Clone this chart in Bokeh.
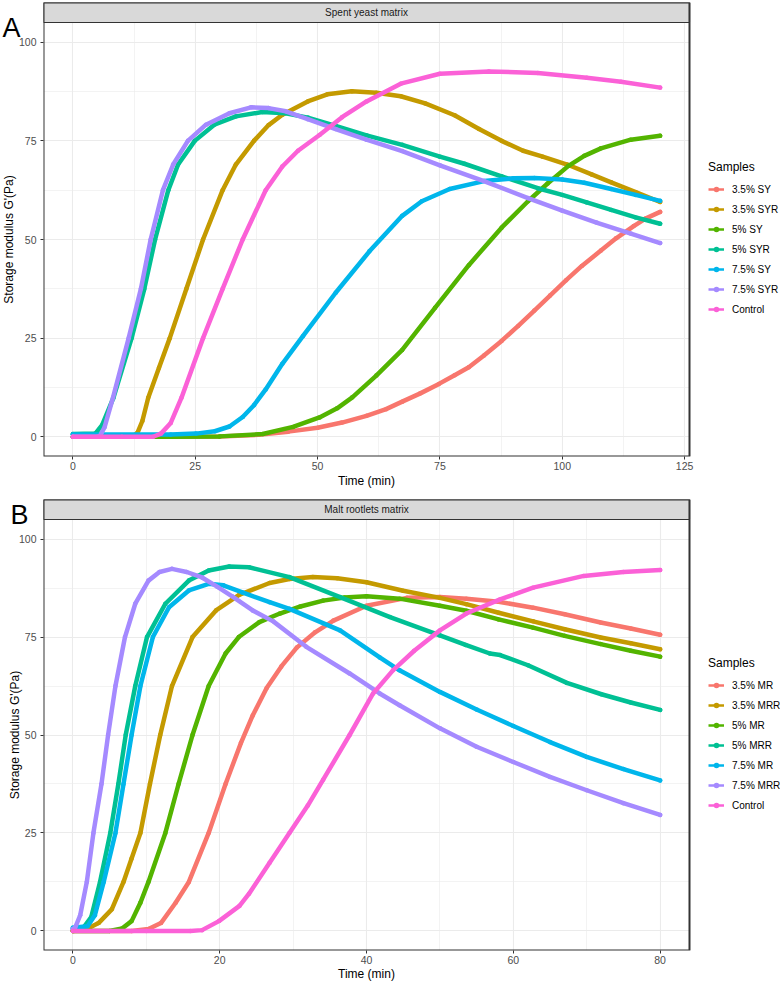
import math
from bokeh.plotting import figure
from bokeh.models import Range1d, FixedTicker, Label, Legend, LegendItem
from bokeh.layouts import column
from bokeh.core.properties import value
from bokeh.embed import file_html
from bokeh.resources import INLINE

FONT = "Liberation Sans"
COLORS = ["#F8766D", "#C49A00", "#53B400", "#00C094", "#00B6EB", "#A58AFF", "#FB61D7"]

# ---------------- Panel A : Spent yeast matrix ----------------
SAMPLES_A = ["3.5% SY", "3.5% SYR", "5% SY", "5% SYR", "7.5% SY", "7.5% SYR", "Control"]

a_sy35_t = [0, 20, 30, 38, 44, 50, 55, 60, 64, 67.3, 71, 74.8, 78, 80.9, 84, 87.6, 91, 94.3,
            97.5, 100.8, 104, 107.9, 111, 114.6, 117, 120]
a_sy35_v = [0, 0, 0.1, 0.5, 1.3, 2.3, 3.6, 5.3, 7, 8.9, 11, 13.4, 15.6, 17.6, 20.6, 24.3, 28.1, 32,
            35.8, 39.7, 43.3, 47.2, 50.3, 53.4, 55.3, 57]

a_syr35_t = [0, 12, 13.2, 14.2, 15.4, 17.6, 19.8, 23.2, 26.6, 30.6, 33.3, 37, 40, 42.8, 48, 52, 57,
             62, 67, 72, 78, 83, 87.6, 92, 96, 101, 106, 110, 115, 120]
a_syr35_v = [0, 0, 1, 4, 9.9, 17.5, 25, 37.5, 50, 62.5, 69, 75, 79, 81.6, 85, 86.8, 87.6,
             87.2, 86.3, 84.5, 81.5, 78, 75, 72.5, 71, 69, 66.5, 64.5, 62, 59.5]

a_sy5_t = [0, 20, 30, 38.8, 45, 50.4, 54, 57.1, 62, 67.3, 74, 80.9, 87.6, 93, 97, 101.2, 104.5,
           107.9, 114, 120]
a_sy5_v = [0, 0, 0.1, 0.7, 2.5, 4.9, 7.2, 10, 15.5, 22, 32.7, 43.5, 53, 59.7, 64.2, 68.6, 71.2,
           73.1, 75.3, 76.3]

a_syr5_t = [0, 4.6, 6, 8.3, 12, 14.6, 16.8, 19.5, 21.5, 24.9, 28.9, 33.3, 38.7, 43.5, 48, 53.7,
            60, 67.3, 75, 80, 87.6, 95, 100, 105, 110, 115, 120]
a_syr5_v = [0.7, 0.8, 3, 9.9, 25, 37.5, 50, 62.5, 69, 75, 79.1, 81.2, 82.3, 82, 80.9, 78.8,
            76.4, 74, 71, 69.2, 66, 63, 61.3, 59.4, 57.5, 55.6, 54]

a_sy75_t = [0, 20, 25.2, 29, 32, 34.7, 37, 39.4, 42.8, 47, 53.7, 60.6, 67.3, 71.3, 77, 84, 90,
            94.3, 100, 104.5, 110, 115, 120]
a_sy75_v = [0.6, 0.6, 0.8, 1.4, 2.6, 5, 8, 12, 18.5, 25.5, 36.5, 47, 56, 59.7, 62.8, 64.8, 65.5,
            65.6, 65.2, 64.4, 62.8, 61.3, 59.8]

a_syr75_t = [0, 5, 5.6, 6.5, 8.2, 11.4, 13.9, 15.9, 18.4, 20.5, 23.5, 27.2, 32, 36.4, 40, 43.5,
             48, 53.7, 60, 67.3, 75, 84, 93, 100, 107, 114, 120]
a_syr75_v = [0, 0, 0.3, 2.5, 9.9, 25, 37.5, 50, 62.5, 69, 75, 79.1, 82, 83.5, 83.3, 82.5,
             80.5, 78, 75.3, 72.4, 68.8, 64.8, 60.5, 57.3, 54.3, 51.5, 49.1]

a_ctrl_t = [0, 10, 16.4, 18, 20, 22.2, 26.6, 30.6, 34.7, 39.4, 42.8, 46, 50.4, 55, 60, 67, 75,
            85, 95, 105, 112, 120]
a_ctrl_v = [0, 0, 0, 0.8, 3.5, 9.9, 25, 37.5, 50, 62.5, 68.5, 72.5, 76.5, 81, 85, 89.5, 92,
            92.6, 92.2, 91, 90, 88.5]

# ---------------- Panel B : Malt rootlets matrix ----------------
SAMPLES_B = ["3.5% MR", "3.5% MRR", "5% MR", "5% MRR", "7.5% MR", "7.5% MRR", "Control"]

b_mr35_t = [0, 8, 10.3, 12, 14, 15.8, 18.5, 20.8, 22.9, 24.5, 26.4, 28.4, 30.5, 33, 35.5, 40,
            45.5, 50, 53.6, 58, 62.7, 67, 71.9, 76, 80]
b_mr35_v = [0, 0, 0.5, 2, 7.2, 12.5, 25, 37.5, 48, 55, 62, 67.5, 72.3, 76.2, 79.2, 83,
            85, 85.2, 84.8, 84, 82.5, 80.8, 78.7, 77.2, 75.6]

b_mrr35_t = [0, 1.7, 3.5, 5.3, 6.9, 8, 9.2, 10.5, 11.9, 13.5, 16.3, 19.5, 22.7, 26.8, 29.5,
             32.7, 36, 40, 45, 50, 53.6, 58, 62.7, 67, 71.9, 76, 80]
b_mrr35_v = [0, 0.3, 2, 5.5, 12.5, 18.5, 25, 37.5, 50, 62.5, 75, 81.8, 85.8, 88.8, 89.8,
             90.3, 90, 89, 86.8, 85, 83.4, 81.2, 79, 77, 74.9, 73.4, 71.9]

b_mr5_t = [0, 5, 6.7, 8, 9.2, 10.3, 12.6, 14.4, 16.3, 18.5, 20.8, 22.6, 25.4, 28.2, 31, 34.1,
           37, 40, 44.5, 50, 53.6, 58, 62.7, 67, 71.9, 76, 80]
b_mr5_v = [0, 0, 0.6, 2.5, 7.2, 12.5, 25, 37.5, 50, 62.5, 70.8, 75, 78.8, 81, 82.8, 84.3,
           85.1, 85.4, 84.8, 83, 81.7, 79.5, 77.4, 75.3, 73.2, 71.5, 70]

b_mrr5_t = [0, 1.5, 2.5, 3.7, 5.1, 6.2, 7.2, 8.5, 10.1, 12.6, 15.8, 18.5, 21.3, 24, 29.5, 36.4,
            43.2, 50, 53.5, 56.8, 58.2, 62, 67.3, 72, 76, 80]
b_mrr5_v = [0.5, 1, 3.5, 12.5, 25, 37.5, 50, 62.5, 75, 83.5, 89.4, 92, 93, 92.8, 90.3, 85.2,
            80.1, 75.4, 73, 70.8, 70.4, 67.8, 63.3, 60.4, 58.3, 56.4]

b_mr75_t = [0, 2, 3, 4.2, 5.8, 6.9, 8, 9.2, 10.9, 13.1, 15.8, 18.5, 20.5, 23.1, 26.8, 29.5,
            36.4, 41.8, 44.5, 50, 55, 60, 65, 70, 75, 80]
b_mr75_v = [0.8, 1.2, 4, 12.5, 25, 37.5, 50, 62.5, 75, 82.6, 86.9, 88.6, 88.2, 86.4, 83.9, 82.2,
            76.7, 69.8, 66.5, 61, 56.5, 52.3, 48.2, 44.4, 41.3, 38.4]

b_mrr75_t = [0, 0.3, 1.0, 1.9, 2.8, 3.9, 4.8, 5.8, 7.1, 8.5, 10.3, 11.8, 13.5, 15.5, 17.6, 19.7,
             21.7, 24.5, 27.3, 31.8, 37.7, 41.8, 44.5, 50, 55, 60, 65, 70, 75, 80]
b_mrr75_v = [0.5, 0.8, 4, 12.5, 25, 37.5, 50, 62.5, 75, 83.5, 89.4, 91.6, 92.4, 91.6, 90.2, 87.8,
             85.4, 81.8, 79, 72.5, 65.7, 60.6, 57.6, 51.7, 47, 43.1, 39.3, 35.9, 32.6, 29.6]

b_ctrl_t = [0, 10, 16, 17.6, 19.9, 22.7, 24, 26.8, 29.5, 32, 34.1, 37.7, 40.9, 43.6, 46.5, 50,
            53.6, 58.2, 62.7, 69.6, 75, 80]
b_ctrl_v = [0, 0, 0, 0.2, 2.5, 6.4, 9.5, 17.4, 25, 32, 38.6, 50, 60.6, 66.5, 71.5, 76.7,
            81, 84.6, 87.6, 90.6, 91.6, 92.1]

A_T = [a_sy35_t, a_syr35_t, a_sy5_t, a_syr5_t, a_sy75_t, a_syr75_t, a_ctrl_t]
A_V = [a_sy35_v, a_syr35_v, a_sy5_v, a_syr5_v, a_sy75_v, a_syr75_v, a_ctrl_v]
B_T = [b_mr35_t, b_mrr35_t, b_mr5_t, b_mrr5_t, b_mr75_t, b_mrr75_t, b_ctrl_t]
B_V = [b_mr35_v, b_mrr35_v, b_mr5_v, b_mrr5_v, b_mr75_v, b_mrr75_v, b_ctrl_v]

Y_TICKS = [0, 25, 50, 75, 100]
Y_MINOR = [12.5, 37.5, 62.5, 87.5]
A_X_TICKS = [0, 25, 50, 75, 100, 125]
A_X_MINOR = [12.5, 37.5, 62.5, 87.5, 112.5]
B_X_TICKS = [0, 20, 40, 60, 80]
B_X_MINOR = [10, 30, 50, 70]

PAGE_W = 780
FRAME_L = 43      # panel left edge (frame left)
PANEL_R = 689     # panel right edge
FRAME_R = 780     # frame extends to the right edge (room for the legend)
TXT = dict(text_font=value(FONT), level="overlay")


def build_panel(series_t, series_v, names, strip_text, letter, x0, x1, xticks, xminor,
                fig_top, fig_h, strip_top, p_top, p_bottom, letter_sx, letter_sy,
                ytitle_sx, xtitle_sy, leg_first_center):
    kx = (PANEL_R - FRAME_L) / (x1 - x0)
    x_end = x0 + (FRAME_R - FRAME_L) / kx
    k = (p_bottom - p_top) / 110.0
    y_end = 105 + (p_top - strip_top) / k

    def dx(sx):
        return x0 + (sx - FRAME_L) / kx

    def dy(sy):
        return -5 + (p_bottom - sy) / k

    p = figure(width=PAGE_W, height=fig_h, x_range=Range1d(x0, x_end),
               y_range=Range1d(-5, y_end), output_backend="svg", toolbar_location=None,
               title=None, min_border_left=FRAME_L, min_border_right=0,
               min_border_top=strip_top - fig_top,
               min_border_bottom=fig_top + fig_h - p_bottom)
    p.background_fill_color = "white"
    p.border_fill_color = "white"
    p.outline_line_color = None

    xt = FixedTicker(ticks=xticks, minor_ticks=xminor)
    yt = FixedTicker(ticks=Y_TICKS, minor_ticks=Y_MINOR)
    p.xaxis.ticker = xt
    p.yaxis.ticker = yt
    p.xgrid.ticker = xt
    p.ygrid.ticker = yt
    for ax in (p.xaxis[0], p.yaxis[0]):
        ax.axis_line_color = None
        ax.major_tick_line_color = "#333333"
        ax.major_tick_in = 0
        ax.major_tick_out = 3
        ax.minor_tick_line_color = None
        ax.major_label_text_font = FONT
        ax.major_label_text_font_size = "10.5px"
        ax.major_label_text_color = "#4D4D4D"
    p.xaxis.major_label_standoff = 1
    p.yaxis.major_label_standoff = 3
    for g in (p.xgrid[0], p.ygrid[0]):
        g.grid_line_color = "#EBEBEB"
        g.grid_line_width = 1.1
        g.minor_grid_line_color = "#EBEBEB"
        g.minor_grid_line_width = 0.6

    # white area right of the panel (legend area), facet strip and panel border
    p.quad(left=[x1], right=[x_end], bottom=[-5], top=[y_end], fill_color="white",
           line_color=None)
    p.quad(left=[x0], right=[x1], bottom=[105], top=[y_end], fill_color="#D9D9D9",
           line_color="#333333", line_width=1.1)
    p.quad(left=[x0], right=[x1], bottom=[-5], top=[y_end], fill_color=None,
           line_color="#333333", line_width=2.0)
    p.add_layout(Label(x=(x0 + x1) / 2, y=(105 + y_end) / 2, text=strip_text,
                       text_align="center", text_baseline="middle", text_font=FONT,
                       text_font_size="10px", text_color="#1A1A1A"))

    items = []
    for t, v, c, name in zip(series_t, series_v, COLORS, names):
        r0 = p.line(t, v, line_color=c, line_width=2.5)
        p.line(t, v, line_color=c, line_width=4.5, line_join="round", line_cap="round")
        r2 = p.scatter(t, v, marker="circle", size=4.5, fill_color=c, line_color=None)
        items.append(LegendItem(label=name, renderers=[r0, r2]))

    leg = Legend(items=items, location=(708 - FRAME_L, p_bottom - (leg_first_center + 131)),
                 title="Samples", padding=0, margin=0, spacing=0, glyph_width=16,
                 glyph_height=14, label_height=20, label_width=20, label_standoff=8,
                 border_line_color=None, background_fill_alpha=0,
                 label_text_font=FONT, label_text_font_size="10px", label_text_color="black",
                 title_text_font=FONT, title_text_font_size="12px", title_text_color="black",
                 title_text_font_style="normal", title_standoff=5)
    p.add_layout(leg)

    # texts outside the data area, drawn on the overlay level
    p.text(x=[dx(letter_sx)], y=[dy(letter_sy)], text=[letter], text_font_size="27px",
           text_baseline="alphabetic", text_align="left", text_color="black", **TXT)
    p.text(x=[dx(ytitle_sx)], y=[dy((p_top + p_bottom) / 2)], text=["Storage modulus G'(Pa)"],
           angle=math.pi / 2, text_font_size="12px", text_baseline="middle",
           text_align="center", text_color="black", **TXT)
    p.text(x=[dx((FRAME_L + PANEL_R) / 2)], y=[dy(xtitle_sy)], text=["Time (min)"],
           text_font_size="12px", text_baseline="middle", text_align="center",
           text_color="black", **TXT)
    return p


pA = build_panel(A_T, A_V, SAMPLES_A, "Spent yeast matrix", "A", -6, 126, A_X_TICKS, A_X_MINOR,
                 fig_top=0, fig_h=490, strip_top=2, p_top=22, p_bottom=456,
                 letter_sx=2, letter_sy=27, ytitle_sx=8, xtitle_sy=480, leg_first_center=188)
pB = build_panel(B_T, B_V, SAMPLES_B, "Malt rootlets matrix", "B", -4, 84, B_X_TICKS, B_X_MINOR,
                 fig_top=490, fig_h=492, strip_top=499, p_top=519, p_bottom=950,
                 letter_sx=10, letter_sy=514, ytitle_sx=14, xtitle_sy=973, leg_first_center=684)

layout = column(pA, pB, spacing=0)
open("out.html", "w").write(file_html(layout, INLINE))
